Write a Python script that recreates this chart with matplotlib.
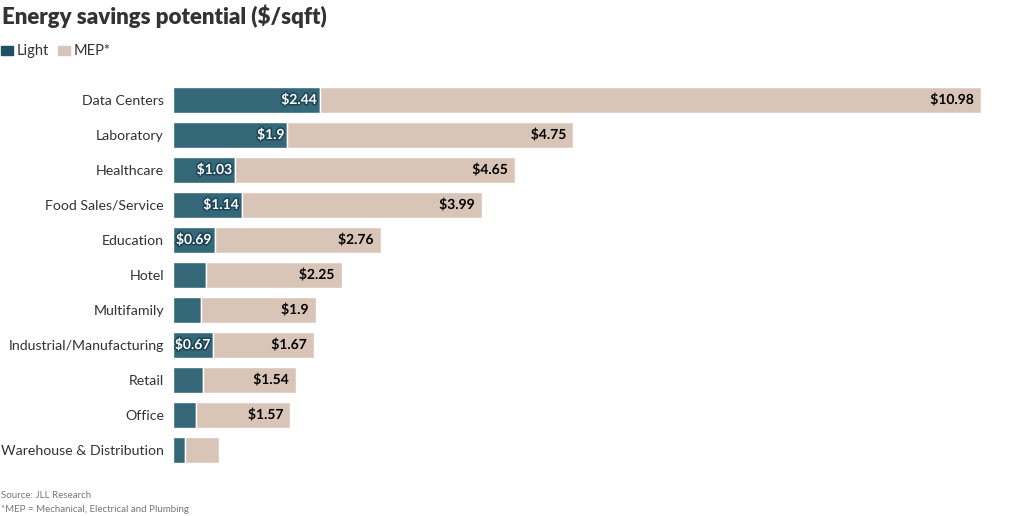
import matplotlib.pyplot as plt
import matplotlib.patheffects as pe

# ---- data ---------------------------------------------------------------
categories = [
    "Data Centers", "Laboratory", "Healthcare", "Food Sales/Service",
    "Education", "Hotel", "Multifamily", "Industrial/Manufacturing",
    "Retail", "Office", "Warehouse & Distribution",
]
light = [2.44, 1.9, 1.03, 1.14, 0.69, 0.55, 0.47, 0.67, 0.50, 0.38, 0.20]
mep = [10.98, 4.75, 4.65, 3.99, 2.76, 2.25, 1.9, 1.67, 1.54, 1.57, 0.57]
light_labels = ["$2.44", "$1.9", "$1.03", "$1.14", "$0.69", "", "", "$0.67", "", "", ""]
mep_labels = ["$10.98", "$4.75", "$4.65", "$3.99", "$2.76", "$2.25", "$1.9",
              "$1.67", "$1.54", "$1.57", ""]

LIGHT_C = "#346879"
MEP_C = "#d9c5b7"
TEXT_C = "#333333"

plt.rcParams['font.family'] = ['Lato', 'DejaVu Sans']

fig = plt.figure(figsize=(10.2, 5.16), dpi=100)
ax = fig.add_axes([173 / 1020, 1 - 467.5 / 516, (981 - 173) / 1020, 385 / 516])

y = list(range(len(categories)))
ax.barh(y, light, height=0.76, color=LIGHT_C, edgecolor="white", linewidth=1)
ax.barh(y, mep, left=light, height=0.76, color=MEP_C, edgecolor="white", linewidth=1)

for i in y:
    if light_labels[i]:
        ax.text(light[i] - 0.05, i, light_labels[i], ha="right", va="center",
                fontsize=10, fontweight="bold", color="white",
                path_effects=[pe.withStroke(linewidth=2.2, foreground="#1d4556")])
    if mep_labels[i]:
        ax.text(light[i] + mep[i] - 0.12, i, mep_labels[i], ha="right", va="center",
                fontsize=10, fontweight="bold", color="black",
                path_effects=[pe.withStroke(linewidth=2.2, foreground=MEP_C)])

ax.set_xlim(0, 13.42)
ax.set_ylim(len(categories) - 0.5, -0.5)
ax.set_yticks(y)
ax.set_yticklabels(categories, fontsize=10.2, color=TEXT_C)
ax.tick_params(axis="y", length=0, pad=6.5)
ax.set_xticks([])
for s in ax.spines.values():
    s.set_visible(False)

# title, legend, notes
fig.text(2 / 1020, 1 - 16 / 516, "Energy savings potential ($/sqft)", fontsize=16,
         fontweight="heavy", color=TEXT_C, va="center")
fig.patches.append(plt.Rectangle((1 / 1020, 1 - 55 / 516), 12 / 1020, 9 / 516,
                                 transform=fig.transFigure, color="#1f5066"))
fig.text(17 / 1020, 1 - 51 / 516, "Light", fontsize=10.5, color=TEXT_C, va="center")
fig.patches.append(plt.Rectangle((58 / 1020, 1 - 55 / 516), 12 / 1020, 9 / 516,
                                 transform=fig.transFigure, color=MEP_C))
fig.text(74 / 1020, 1 - 51 / 516, "MEP*", fontsize=10.5, color=TEXT_C, va="center")

fig.text(1 / 1020, 1 - 496 / 516, "Source: JLL Research", fontsize=7, color="#777777", va="center")
fig.text(1 / 1020, 1 - 509 / 516, "*MEP = Mechanical, Electrical and Plumbing", fontsize=7,
         color="#777777", va="center")

fig.savefig("out.png", dpi=100)
